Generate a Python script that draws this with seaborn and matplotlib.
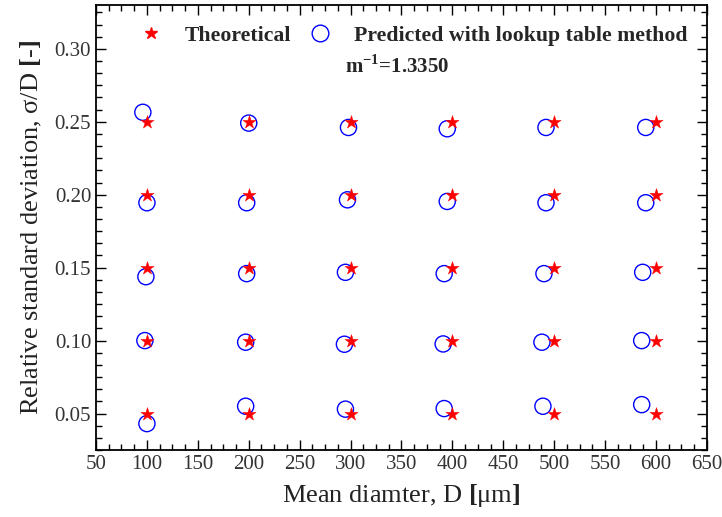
import numpy as np
import pandas as pd
import matplotlib
matplotlib.use('Agg')
import matplotlib.pyplot as plt
from matplotlib.lines import Line2D
from matplotlib.ticker import MultipleLocator, AutoMinorLocator
import seaborn as sns

# theoretical grid
mean_d = [100, 200, 300, 400, 500, 600]
rel_sigma = [0.25, 0.20, 0.15, 0.10, 0.05]

# predicted with lookup table (one row per sigma level, top to bottom)
pred_d = [
    [96, 200, 298, 395, 492, 590],
    [100, 198, 297, 395, 492, 590],
    [99, 198, 295, 392, 490, 587],
    [98, 197, 294, 391, 488, 586],
    [100, 197, 295, 392, 489, 586],
]
pred_sigma = [
    [0.2565, 0.2491, 0.2461, 0.2452, 0.2461, 0.2461],
    [0.1945, 0.1945, 0.1965, 0.1954, 0.1945, 0.1945],
    [0.1438, 0.1459, 0.1468, 0.1459, 0.1459, 0.1468],
    [0.1000, 0.0989, 0.0975, 0.0977, 0.0989, 0.1000],
    [0.0431, 0.0550, 0.0530, 0.0534, 0.0550, 0.0561],
]

theo = pd.DataFrame([(d, s) for s in rel_sigma for d in mean_d], columns=['D', 'sigma'])
pred = pd.DataFrame({'D': np.ravel(pred_d), 'sigma': np.ravel(pred_sigma)})

sns.set_style('ticks')
plt.rcParams['font.family'] = ['Liberation Serif', 'DejaVu Serif']
plt.rcParams['mathtext.fontset'] = 'custom'
plt.rcParams['mathtext.rm'] = 'Liberation Serif'
plt.rcParams['mathtext.bf'] = 'Liberation Serif:bold'

fig = plt.figure(figsize=(7.22, 5.17), dpi=100)
ax = fig.add_axes([0.133, 0.1296, 0.846, 0.8606])

sns.scatterplot(data=pred, x='D', y='sigma', marker='o', s=135,
                facecolor='none', edgecolor='blue', linewidth=1.0, ax=ax, zorder=2)
sns.scatterplot(data=theo, x='D', y='sigma', marker='*', s=100,
                color='red', edgecolor='red', linewidth=0.3, ax=ax, zorder=3)

ax.set_xlim(50, 650)
ax.set_ylim(0.025, 0.33)
ax.xaxis.set_major_locator(MultipleLocator(50))
ax.xaxis.set_minor_locator(AutoMinorLocator(4))
ax.yaxis.set_major_locator(MultipleLocator(0.05))
ax.yaxis.set_minor_locator(AutoMinorLocator(6))
ax.tick_params(which='both', direction='in', top=True, right=True, labelsize=15,
               colors='black', labelcolor='#333333')
ax.tick_params(which='major', length=7, width=1.0)
ax.tick_params(which='minor', length=4, width=1.0)
ax.set_yticks([0.05, 0.10, 0.15, 0.20, 0.25, 0.30])
ax.set_yticklabels(['0.05', '0.10', '0.15', '0.20', '0.25', '0.30'])
for sp in ax.spines.values():
    sp.set_linewidth(1.3)
    sp.set_color('black')

ax.set_xlabel(r'Mean diamter, D $\mathbf{[}$μm$\mathbf{]}$', fontsize=19, labelpad=6, color='#222222')
ax.set_ylabel(r'Relative standard deviation, σ/D $\mathbf{[}$-$\mathbf{]}$', fontsize=19, labelpad=8,
              color='#222222')

handles = [
    Line2D([], [], marker='*', color='red', ls='none', markersize=9),
    Line2D([], [], marker='o', mfc='none', mec='blue', ls='none', markersize=12, mew=1.0),
]
leg = ax.legend(handles, ['Theoretical', 'Predicted with lookup table method'],
                ncol=2, frameon=False, loc='upper center', bbox_to_anchor=(0.511, 0.998),
                prop={'weight': 'bold', 'size': 15.7}, handletextpad=0.55, columnspacing=0.35)

ax.text(0.493, 0.862, r'm$^{\mathbf{-1}}$=1.3350', transform=ax.transAxes,
        ha='center', va='center', fontsize=15, fontweight='bold')

fig.savefig('out.png', dpi=100)
